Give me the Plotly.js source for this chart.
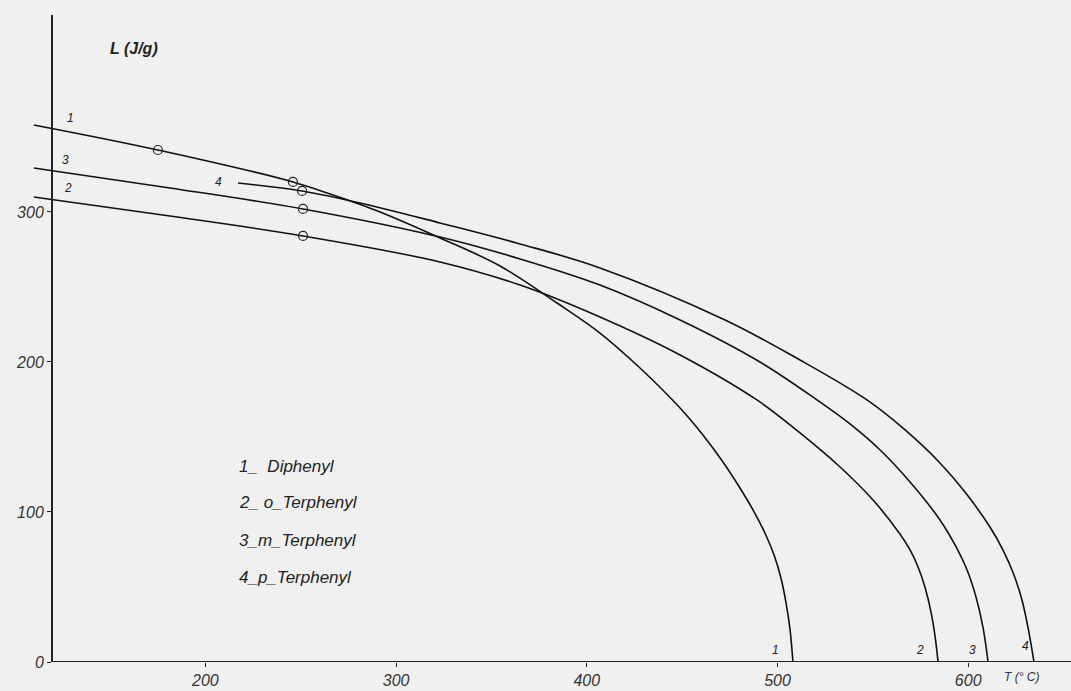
<!DOCTYPE html>
<html>
<head>
<meta charset="utf-8">
<script src="https://cdn.plot.ly/plotly-3.0.1.min.js"></script>
<style>
  html, body { margin: 0; padding: 0; background: #f0f0f0; }
  #chart { width: 1071px; height: 691px; }
</style>
</head>
<body>
<div id="chart"></div>
<script>
// Temperature T (°C) and heat of vaporisation L (J/g)
const diphenylT = [110, 175.1, 245.9, 265.3, 291.6, 323, 354.5, 384.4, 406.9, 427.9, 448.9, 460.9, 471.4, 480.3, 487.2, 493.4, 498.2, 501.8, 504.5, 506.6, 508.1];
const diphenylL = [358, 341.3, 320, 312, 300, 282.7, 264, 239.3, 219.3, 196, 169.3, 151.3, 133.3, 116, 101.3, 86, 71.3, 56, 39.3, 21.3, 0];

const oTerT = [110, 181.4, 251.2, 323, 365, 406.9, 448.9, 489.2, 511.8, 532.8, 550.1, 564.2, 569.5, 573.7, 577.3, 580.5, 582.6, 584.2];
const oTerL = [310, 297.3, 284, 266.7, 251.3, 230, 204.7, 174.7, 152.7, 130, 108, 85.3, 74.7, 63.3, 50, 33.3, 17.3, 0];

const mTerT = [110, 181.4, 251.2, 323, 365, 406.9, 448.9, 490.8, 520.7, 538, 553.8, 569.5, 585.2, 593.1, 599.4, 604.1, 607.8, 610.4];
const mTerL = [329.3, 316, 302, 283.3, 268.7, 251.3, 228, 200, 174.7, 158.7, 141.3, 120, 94.7, 78, 61.3, 43.3, 22.7, 0];

const pTerT = [217.1, 250.7, 281.1, 323, 365, 406.9, 472.5, 511.8, 546.9, 566.9, 585.2, 598.3, 611.4, 618.2, 624, 628.2, 631.4, 634.5];
const pTerL = [319.3, 314, 306, 292.7, 278.7, 262.7, 228, 201.3, 174.7, 154.7, 132.7, 113.3, 90, 74.7, 58, 41.3, 22.7, 0];

// measured points (open circles)
const pointsT = [175.1, 245.9, 250.7, 251.2, 251.2];
const pointsL = [341.3, 320, 314, 302, 284];

const xTicks = [200, 300, 400, 500, 600];
const yTicks = [0, 100, 200, 300];
const legendLines = ["1_  Diphenyl", "2_ o_Terphenyl", "3_m_Terphenyl", "4_p_Terphenyl"];

const lineStyle = {color: '#111', width: 1.6, shape: 'spline', smoothing: 1};
function curve(x, y, name) {
  return {x: x, y: y, type: 'scatter', mode: 'lines', name: name, line: lineStyle, hoverinfo: 'x+y'};
}
const traces = [
  curve(diphenylT, diphenylL, 'Diphenyl'),
  curve(oTerT, oTerL, 'o-Terphenyl'),
  curve(mTerT, mTerL, 'm-Terphenyl'),
  curve(pTerT, pTerL, 'p-Terphenyl'),
  {x: pointsT, y: pointsL, type: 'scatter', mode: 'markers', name: 'points',
   marker: {symbol: 'circle-open', size: 9, color: '#222', line: {width: 1.2, color: '#222'}}}
];

const FAM = 'Liberation Sans, Arial, sans-serif';
const tickFont = {family: FAM, size: 16, color: '#333', style: 'italic'};
const labFont = {family: FAM, size: 12, color: '#222', style: 'italic'};

const annotations = [
  {x: 0.072, xref: 'paper', y: 409, yref: 'y', text: 'L (J/g)', showarrow: false, xanchor: 'left', yanchor: 'middle',
   font: {family: FAM, size: 16, color: '#222', style: 'italic', weight: 'bold'}},
  {x: 0.934, xref: 'paper', y: -0.023, yref: 'paper', text: 'T (° C)', showarrow: false, xanchor: 'left', yanchor: 'middle',
   font: {family: FAM, size: 12, color: '#333', style: 'italic'}}
];

legendLines.forEach(function (t, i) {
  annotations.push({x: 0.197, xref: 'paper', y: [130, 106, 81.3, 56][i], yref: 'y', text: t, showarrow: false,
    xanchor: 'left', yanchor: 'middle',
    font: {family: FAM, size: 17, color: '#222', style: 'italic'}});
});

const numLabels = [
  ['1', 129, 362.7], ['3', 126.9, 334.7], ['2', 128, 316], ['4', 207, 320],
  ['1', 499.2, 8], ['2', 574.8, 8], ['3', 602, 8], ['4', 629.8, 11]
];
numLabels.forEach(function (n) {
  annotations.push({x: n[1], y: n[2], xref: 'x', yref: 'y', text: n[0], showarrow: false, font: labFont,
    yanchor: 'middle'});
});

const layout = {
  width: 1071, height: 691,
  margin: {l: 33, r: 0, t: 15, b: 29},
  paper_bgcolor: '#f0f0f0', plot_bgcolor: '#f0f0f0',
  showlegend: false,
  xaxis: {range: [109.6, 653.9], tickvals: xTicks, ticktext: xTicks.map(String), showgrid: false, zeroline: false,
    showline: false, ticks: 'outside', ticklen: 4, tickcolor: '#222', tickfont: tickFont},
  yaxis: {range: [0, 431.3], tickvals: yTicks, ticktext: yTicks.map(String), showgrid: false, zeroline: false,
    anchor: 'free', position: 0.0183, showline: true, linecolor: '#222', linewidth: 2,
    ticks: 'outside', ticklen: 4, tickcolor: '#222', tickfont: tickFont},
  shapes: [{type: 'line', xref: 'paper', yref: 'y', x0: 0.0183, x1: 1, y0: 0, y1: 0,
    line: {color: '#222', width: 2}}],
  annotations: annotations
};

Plotly.newPlot('chart', traces, layout, {displayModeBar: false, staticPlot: true});
</script>
</body>
</html>
